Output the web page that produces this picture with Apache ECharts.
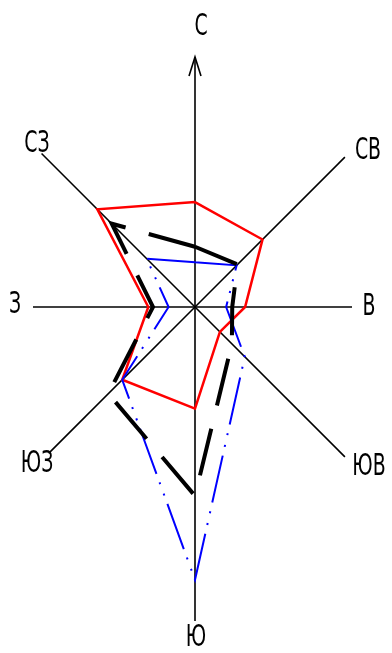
<!DOCTYPE html>
<html>
<head>
<meta charset="utf-8">
<script src="https://cdn.jsdelivr.net/npm/echarts@6/dist/echarts.min.js"></script>
<style>
  html, body { margin: 0; padding: 0; background: #fff; }
  #rose { width: 392px; height: 653px; }
</style>
</head>
<body>
<div id="rose"></div>
<script>
  // румбы по часовой стрелке от севера
  const directions = ['С', 'СВ', 'В', 'ЮВ', 'Ю', 'ЮЗ', 'З', 'СЗ'];
  // повторяемость ветра, %
  const redValues = [15.5, 14.1, 7.4, 5.2, 15.0, 15.2, 6.9, 20.4];
  const blackValues = [8.9, 8.9, 5.5, 7.7, 27.9, 18.1, 6.2, 17.4];
  const blueValues = [6.6, 8.7, 4.6, 10.4, 40.3, 15.2, 3.9, 10.1];
  const maxValue = 50;

  // radar идёт против часовой стрелки: С, СЗ, З, ЮЗ, Ю, ЮВ, В, СВ
  const order = [0, 7, 6, 5, 4, 3, 2, 1];
  const toRadar = arr => order.map(i => arr[i]);

  const cx = 195, cy = 307;
  // длина осей и положение подписей (оформление)
  const spokeLen = [250, 212, 157, 212, 314, 207, 162, 217];
  const labelPos = [[201, 27], [368, 151], [369, 307], [369, 467], [196, 638], [37, 464], [15, 305], [37, 144]];

  let graphic = [];
  spokeLen.forEach((len, i) => {
    let a = i * Math.PI / 4;
    graphic.push({
      type: 'line', z: 0,
      shape: {x1: cx, y1: cy, x2: cx + len * Math.sin(a), y2: cy - len * Math.cos(a)},
      style: {stroke: '#000', lineWidth: 1.6}
    });
  });
  graphic.push({
    type: 'polyline', z: 0,
    shape: {points: [[189, 76], [195, 57], [201, 76]]},
    style: {stroke: '#000', lineWidth: 1.6, fill: null}
  });
  directions.forEach((name, i) => {
    graphic.push({
      type: 'text', z: 5,
      x: labelPos[i][0], y: labelPos[i][1], scaleX: 0.7,
      style: {
        text: name,
        fill: '#000',
        font: '30px "Liberation Sans Narrow", "DejaVu Sans Condensed", sans-serif',
        textAlign: 'center',
        textVerticalAlign: 'middle'
      }
    });
  });

  const option = {
    animation: false,
    radar: {
      center: [cx, cy],
      radius: 338.5,
      startAngle: 90,
      shape: 'polygon',
      indicator: toRadar(directions).map(name => ({name: name, max: maxValue})),
      axisName: {show: false},
      axisLine: {show: false},
      splitLine: {show: false},
      splitArea: {show: false},
      axisTick: {show: false},
      axisLabel: {show: false}
    },
    series: [
      {
        type: 'radar',
        symbol: 'none',
        silent: true,
        data: [
          {
            name: 'red', value: toRadar(redValues),
            lineStyle: {color: '#ff0000', width: 2.5, type: 'solid', join: 'miter'}
          },
          {
            name: 'blue', value: toRadar(blueValues),
            lineStyle: {color: '#0000ff', width: 2, type: [48, 9, 2, 10, 2, 9], join: 'miter'}
          },
          {
            name: 'black', value: toRadar(blackValues),
            lineStyle: {color: '#000', width: 4, type: [48, 24], join: 'miter'}
          }
        ]
      }
    ],
    graphic: graphic
  };

  let rose = echarts.init(document.getElementById('rose'));
  rose.setOption(option);
  window.addEventListener('resize', function () {
    rose.resize();
  });
</script>
</body>
</html>
